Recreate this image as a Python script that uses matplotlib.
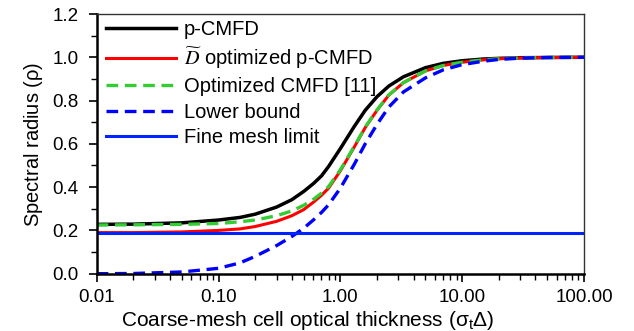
import numpy as np
import matplotlib
matplotlib.use("Agg")
import matplotlib.pyplot as plt
from matplotlib.ticker import FixedLocator, LogLocator, NullFormatter, FuncFormatter

plt.rcParams['font.family'] = ['Liberation Sans', 'DejaVu Sans']
plt.rcParams['mathtext.fontset'] = 'stix'

# values
x = [0.01, 0.02, 0.05, 0.1, 0.15, 0.2, 0.3, 0.4, 0.5, 0.6, 0.7, 0.8, 1.0, 1.3, 1.6, 2, 2.5, 3.3, 5, 7, 10, 15, 20, 30, 50, 100]
p_cmfd = [0.228, 0.229, 0.235, 0.248, 0.26, 0.275, 0.308, 0.342, 0.38, 0.416, 0.452, 0.495, 0.578, 0.68, 0.755, 0.818,
          0.867, 0.91, 0.952, 0.972, 0.984, 0.992, 0.995, 0.998, 0.999, 1.0]
d_opt = [0.19, 0.19, 0.193, 0.2, 0.207, 0.218, 0.242, 0.268, 0.296, 0.33, 0.362, 0.395, 0.475, 0.585, 0.675, 0.755,
         0.825, 0.883, 0.937, 0.962, 0.977, 0.988, 0.993, 0.997, 0.999, 1.0]
opt_cmfd = [0.225, 0.226, 0.228, 0.232, 0.24, 0.248, 0.268, 0.29, 0.316, 0.343, 0.372, 0.402, 0.48, 0.588, 0.677,
            0.757, 0.826, 0.883, 0.937, 0.962, 0.977, 0.988, 0.993, 0.997, 0.999, 1.0]
lower = [0.0, 0.001, 0.008, 0.025, 0.05, 0.08, 0.13, 0.172, 0.21, 0.248, 0.283, 0.318, 0.395, 0.505, 0.6, 0.69,
         0.77, 0.84, 0.905, 0.942, 0.966, 0.982, 0.99, 0.996, 0.999, 1.0]
fine_limit = 0.187

fig = plt.figure(figsize=(6.34, 3.31), dpi=100)
ax = fig.add_axes([0.1525, 0.1731, 0.7686, 0.7846])

ax.plot(x, p_cmfd, color='black', lw=2.5, label='p-CMFD')
ax.plot(x, d_opt, color='#ff0000', lw=2.2, label=r'$\widetilde{D}$ optimized p-CMFD')
ax.plot(x, opt_cmfd, color='#33cc33', lw=2.4, ls=(0, (3.5, 2)), label='Optimized CMFD [11]')
ax.plot(x, lower, color='#0000ff', lw=2.4, ls=(0, (3.5, 2)), label='Lower bound')
ax.plot([x[0], x[-1]], [fine_limit, fine_limit], color='#0022ff', lw=2.2, label='Fine mesh limit')

ax.set_xscale('log')
ax.set_xlim(0.01, 100)
ax.set_ylim(0, 1.2)
ax.set_yticks(np.arange(0, 1.21, 0.2))
ax.yaxis.set_minor_locator(FixedLocator(np.arange(0.1, 1.2, 0.2)))
ax.yaxis.set_major_formatter(FuncFormatter(lambda v, p: '%.1f' % v))
ax.xaxis.set_major_formatter(FuncFormatter(lambda v, p: '%.2f' % v))
ax.xaxis.set_minor_locator(LogLocator(base=10, subs=np.arange(2, 10), numticks=20))
ax.xaxis.set_minor_formatter(NullFormatter())

ax.tick_params(which='major', direction='out', length=6, width=1.2, labelsize=13.5)
ax.tick_params(axis='y', which='major', pad=7)
ax.tick_params(axis='x', which='major', pad=5)
ax.tick_params(which='minor', direction='out', length=4, width=1.0)
for s in ['left', 'bottom']:
    ax.spines[s].set_linewidth(1.8)
for s in ['top', 'right']:
    ax.spines[s].set_linewidth(1.0)
    ax.spines[s].set_color('#333333')

ax.set_xlabel(r'Coarse-mesh cell optical thickness ($\mathregular{\sigma_t\Delta}$)', fontsize=15)
ax.xaxis.set_label_coords(0.432, -0.137, transform=ax.transAxes)
ax.xaxis.label.set_va('top')
ax.set_ylabel(r'Spectral radius ($\mathregular{\rho}$)', fontsize=14.5, labelpad=5)

ax.legend(loc='upper left', bbox_to_anchor=(0.015, 0.985), frameon=False, fontsize=14.5, handlelength=3.5,
          handletextpad=0.35, labelspacing=0.32, borderaxespad=0, borderpad=0.1)

fig.savefig('out.png', dpi=100)
